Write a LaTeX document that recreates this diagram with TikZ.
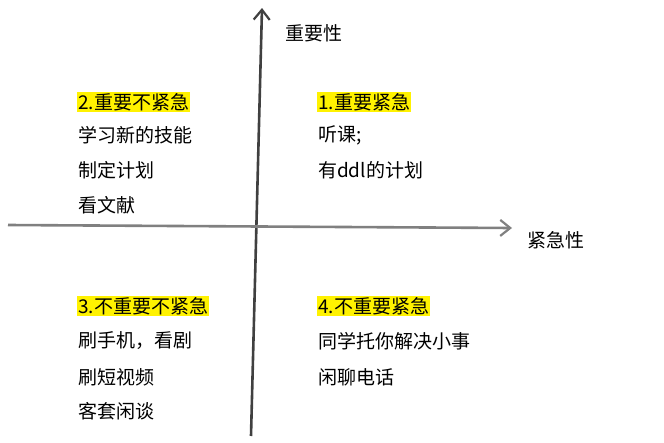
\documentclass[tikz,border=0pt]{standalone}
\usepackage{fontspec}
\setmainfont{Noto Sans CJK SC}
\usetikzlibrary{arrows.meta}
\begin{document}
\begin{tikzpicture}[x=1pt,y=-1pt,
  lbl/.style={anchor=west,inner sep=1pt,font=\fontsize{19}{22}\selectfont},
  hl/.style={lbl,fill=yellow},
  axis/.style={line width=2.6pt,-{Straight Barb[length=10pt,width=16pt,line width=2.2pt]}}]
\useasboundingbox (0,0) rectangle (664,442);
\coordinate (vs) at (251,436);
\coordinate (ve) at (262,8);
\coordinate (hs) at (8,225);
\coordinate (he) at (512,228);
\draw[axis,color=black!75] (vs) -- (ve);
\draw[axis,color=black!50] (hs) -- (he);
\node[lbl] (yl) at (284,33) {重要性};
\node[lbl] (xl) at (526,240) {紧急性};
\node[hl] (q2) at (77,102) {2.重要不紧急};
\node[lbl] (q2a) at (77,135) {学习新的技能};
\node[lbl] (q2b) at (77,170) {制定计划};
\node[lbl] (q2c) at (77,205) {看文献};
\node[hl] (q1) at (317,102) {1.重要紧急};
\node[lbl] (q1a) at (317,135) {听课;};
\node[lbl] (q1b) at (317,170) {有ddl的计划};
\node[hl] (q3) at (77,306) {3.不重要不紧急};
\node[lbl] (q3a) at (77,341) {刷手机，看剧};
\node[lbl] (q3b) at (77,377) {刷短视频};
\node[lbl] (q3c) at (77,411) {客套闲谈};
\node[hl] (q4) at (317,306) {4.不重要紧急};
\node[lbl] (q4a) at (317,341) {同学托你解决小事};
\node[lbl] (q4b) at (317,377) {闲聊电话};
\end{tikzpicture}
\end{document}
